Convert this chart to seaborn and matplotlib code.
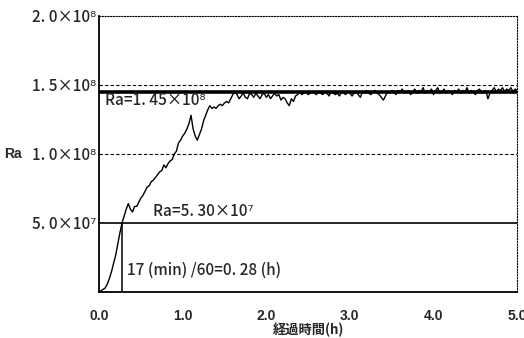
import numpy as np
import matplotlib
matplotlib.use('Agg')
import matplotlib.pyplot as plt
import seaborn as sns
import pandas as pd

# Ra curve, one value every 0.025 h (units of 1e7)
ra_1e7 = [
    0.0, 0.1, 0.2, 0.3, 0.6, 1.0, 1.5, 2.1, 2.7, 3.5,
    4.3, 5.0, 5.5, 6.0, 6.4, 6.0, 5.8, 6.2, 6.2, 6.5,
    6.8, 7.0, 7.3, 7.6, 7.7, 8.0, 8.1, 8.3, 8.5, 8.7,
    8.8, 9.2, 9.0, 9.3, 9.5, 9.6, 10.0, 10.2, 10.8, 11.0,
    11.3, 11.5, 11.8, 12.2, 12.8, 11.8, 11.3, 11.0, 11.4, 11.8,
    12.4, 12.8, 13.2, 13.5, 13.3, 13.4, 13.3, 13.5, 13.6, 13.5,
    13.7, 13.8, 13.7, 14.0, 14.3, 14.5, 14.3, 14.0, 14.2, 14.4,
    14.1, 14.0, 14.4, 14.3, 14.1, 14.4, 14.2, 14.0, 14.3, 14.4,
    14.1, 14.3, 14.0, 14.2, 14.4, 14.2, 14.3, 13.9, 14.1, 14.0,
    13.7, 13.5, 14.0, 13.8, 14.2, 14.3, 14.5, 14.3, 14.4, 14.5,
    14.3, 14.4, 14.5, 14.4, 14.3, 14.5, 14.4, 14.3, 14.5, 14.4,
    14.2, 14.5, 14.4, 14.3, 14.4, 14.2, 14.5, 14.4, 14.3, 14.5,
    14.4, 14.2, 14.4, 14.5, 14.3, 14.1, 14.5, 14.4, 14.6, 14.4,
    14.3, 14.5, 14.6, 14.4, 14.3, 14.1, 13.9, 14.2, 14.5, 14.4,
    14.6, 14.5, 14.3, 14.6, 14.5, 14.7, 14.4, 14.5, 14.6, 14.3,
    14.5, 14.7, 14.4, 14.6, 14.5, 14.8, 14.4, 14.6, 14.5, 14.7,
    14.3, 14.6, 14.8, 14.4, 14.5, 14.7, 14.4, 14.6, 14.5, 14.3,
    14.6, 14.5, 14.7, 14.4, 14.6, 14.5, 14.8, 14.4, 14.6, 14.5,
    14.3, 14.6, 14.7, 14.4, 14.5, 14.6, 14.0, 14.4, 14.6, 14.8,
    14.5, 14.7, 14.6, 14.8, 14.5, 14.7, 14.6, 14.8, 14.5, 14.7,
    14.6,
]
time_h = np.linspace(0.0, 5.0, len(ra_1e7))

ra_steady = 1.45e8      # thick line
ra_level = 5.0e7        # thin line
t_cross = 0.28          # 17 min / 60

y_ticks = [5.0e7, 1.0e8, 1.5e8, 2.0e8]
y_labels = ['5. 0×10⁷', '1. 0×10⁸', '1. 5×10⁸', '2. 0×10⁸']
x_ticks = [0, 1, 2, 3, 4, 5]
x_labels = ['0.0', '1.0', '2.0', '3.0', '4.0', '5.0']

sns.set_style('white')
jp = ['Noto Sans CJK JP', 'DejaVu Sans']
plt.rcParams['font.family'] = jp

df = pd.DataFrame({'t': time_h, 'ra': np.array(ra_1e7) * 1e7})

fig = plt.figure(figsize=(5.24, 3.38), dpi=100)
ax = fig.add_axes([0.189, 0.136, 0.798, 0.817])

sns.lineplot(data=df, x='t', y='ra', color='black', linewidth=1.0, ax=ax)

ax.axhline(ra_steady, color='black', linewidth=2.6)
ax.axhline(ra_level, color='black', linewidth=1.2)
ax.plot([t_cross, t_cross], [0, ra_level], color='black', linewidth=1.1)
for yv in [1.0e8, 1.5e8]:
    ax.axhline(yv, color='black', linewidth=0.8, linestyle=(0, (3, 2)))

ax.set_xlim(0, 5.0)
ax.set_ylim(0, 2.0e8)
ax.set_xticks(x_ticks)
ax.set_xticklabels(x_labels, family='Liberation Sans', fontweight='bold', fontsize=10)
ax.set_xticks(np.arange(0.5, 5.0, 1.0), minor=True)
ax.set_yticks(y_ticks)
ax.set_yticklabels(y_labels, fontsize=11, fontweight='medium')
ax.tick_params(axis='x', which='both', direction='in', length=3, width=1, pad=12)
ax.tick_params(axis='y', length=0, pad=2)
ax.set_xlabel('経過時間(h)', fontsize=9.5, fontweight='bold', labelpad=0)
ax.set_ylabel('')

for side in ['left', 'bottom']:
    ax.spines[side].set_color('black')
    ax.spines[side].set_linewidth(1.3)
for side in ['top', 'right']:
    ax.spines[side].set_color('black')
    ax.spines[side].set_linewidth(0.8)
    ax.spines[side].set_linestyle((0, (1, 1.5)))

ax.text(-0.228, 1.0e8, 'Ra', transform=ax.get_yaxis_transform(), fontsize=10,
        fontweight='bold', family='Liberation Sans', va='center', ha='left')
ax.text(0.07, 1.39e8, 'Ra=1. 45×10⁸', fontsize=11, fontweight='medium',
        va='center', ha='left')
ax.text(0.65, 5.8e7, 'Ra=5. 30×10⁷', fontsize=11, fontweight='medium',
        va='center', ha='left')
ax.text(0.33, 1.6e7, '17 (min) /60=0. 28 (h)', fontsize=11, fontweight='medium',
        va='center', ha='left')

fig.savefig('out.png', dpi=100)
